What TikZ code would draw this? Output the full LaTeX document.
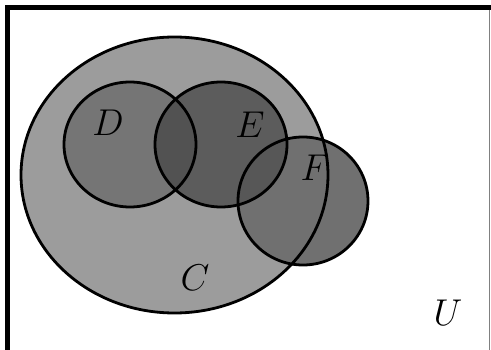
\documentclass[tikz,border=0pt]{standalone}
\usepackage{graphicx}
\definecolor{setC}{gray}{0.61}
\definecolor{setD}{gray}{0.46}
\definecolor{setE}{gray}{0.36}
\definecolor{setF}{gray}{0.44}
\definecolor{setDE}{gray}{0.32}
\definecolor{setEF}{gray}{0.34}
\newcommand{\setname}[1]{\scalebox{1.5}{\fontsize{24}{28}\selectfont$#1$}}
\tikzset{
  setline/.style={line width=2.8pt, draw=black},
  setlabel/.style={inner sep=0pt},
}
\begin{document}
\begin{tikzpicture}[x=1pt, y=-1pt]
  \useasboundingbox (0,0) rectangle (491,350);
  \fill[white] (0,0) rectangle (491,350);

  % universe frame
  \draw[line width=5.5pt, line cap=rect] (7.5,350) -- (7.5,7.5) -- (489,7.5);
  \draw[line width=1.5pt, gray] (489.5,10) -- (489.5,350);

  % fills
  \fill[setC] (174.5,175) ellipse [x radius=153.5, y radius=138];
  \fill[setD] (130,144.5) ellipse [x radius=66, y radius=62.5];
  \fill[setF] (303,201) ellipse [x radius=65, y radius=64];
  \fill[setE] (221,144.5) ellipse [x radius=66, y radius=62.5];
  \begin{scope}
    \clip (130,144.5) ellipse [x radius=66, y radius=62.5];
    \fill[setDE] (221,144.5) ellipse [x radius=66, y radius=62.5];
  \end{scope}
  \begin{scope}
    \clip (303,201) ellipse [x radius=65, y radius=64];
    \fill[setEF] (221,144.5) ellipse [x radius=66, y radius=62.5];
  \end{scope}

  % outlines
  \draw[setline] (174.5,175) ellipse [x radius=153.5, y radius=138];
  \draw[setline] (130,144.5) ellipse [x radius=66, y radius=62.5];
  \draw[setline] (221,144.5) ellipse [x radius=66, y radius=62.5];
  \draw[setline] (303,201) ellipse [x radius=65, y radius=64];

  % labels
  \node[setlabel] (lD) at (108,123) {\setname{D}};
  \node[setlabel] (lE) at (250,125) {\setname{E}};
  \node[setlabel] (lF) at (315,168) {\setname{F}};
  \node[setlabel] (lC) at (195,278) {\setname{C}};
  \node[setlabel] (lU) at (448,313) {\setname{U}};
\end{tikzpicture}
\end{document}
